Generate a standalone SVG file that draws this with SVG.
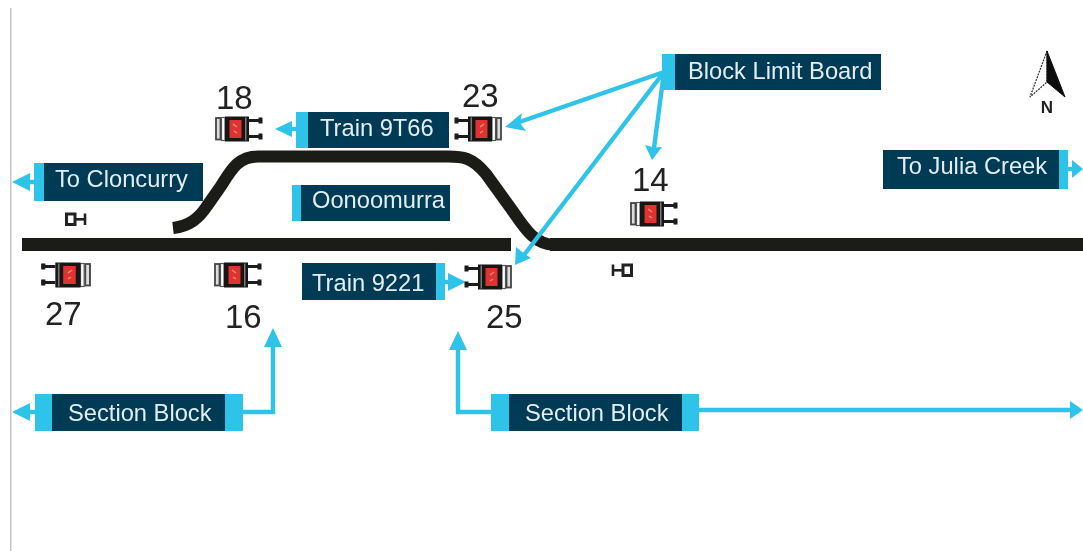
<svg xmlns="http://www.w3.org/2000/svg" width="1083" height="551" viewBox="0 0 1083 551">
<style>
.dark{fill:#003a54}
.cy{fill:#2dc3e9}
.lbl{font-family:"Liberation Sans",Arial,sans-serif;font-size:23.7px;fill:#e4eef2}
.num{font-family:"Liberation Sans",Arial,sans-serif;font-size:33px;fill:#222}
.con{fill:none;stroke:#2dc3e9;stroke-width:4.4}
.head{fill:#2dc3e9}
.track{fill:none;stroke:#1f1a17}
</style>
<defs>
<filter id="soft" x="0" y="0" width="100%" height="100%"><feGaussianBlur stdDeviation="0.45"/></filter>
<g id="train">
<rect x="1" y="2" width="4.500" height="21.500" fill="#ddd" stroke="#444" stroke-width="1.800"/>
<rect x="6.500" y="1.500" width="3.500" height="23" fill="#fff" stroke="#555" stroke-width="1.200"/>
<rect x="10" y="0.500" width="24" height="25" fill="#171717"/>
<rect x="14.500" y="4" width="12" height="18" fill="#e0322e"/>
<path d="M18 8l4 3M19 15l3 2" stroke="#f08a84" stroke-width="1.500" fill="none"/>
<rect x="30" y="1.500" width="1.500" height="23" fill="#777"/>
<path d="M34 4.500H45M34 20.500H45" stroke="#1a1a1a" stroke-width="3" fill="none"/>
<path d="M45.500 1.500V7.500M45.500 17.500V23.500" stroke="#1a1a1a" stroke-width="4" fill="none"/>
</g>
<g id="signal">
<rect x="1.500" y="2" width="8.500" height="10.500" fill="#fff" stroke="#222" stroke-width="3"/>
<path d="M10 7.300H20" stroke="#222" stroke-width="2.600"/>
<path d="M20 1.500V13" stroke="#222" stroke-width="2.600"/>
</g>
</defs>
<rect width="1083" height="551" fill="#fff"/>
<g filter="url(#soft)">
<path d="M10.500 8V551" stroke="#c4c4c4" stroke-width="2" fill="none"/>

<g id="tracks">
<path class="track" stroke-width="13" d="M22 244.500H511M550 244.500H1083"/>
<path class="track" stroke-width="12" d="M173 228C190 226 199 218 207 206L221 186C231 170 238 156.500 258 156.500H448C462 156.500 472 157 486 174L512 210C525 229 535 245 555 245"/>
</g>

<g id="connectors">
<path class="con" d="M664 72L518 122.500"/>
<path class="head" d="M505 127L522 113L520 123L526 131Z"/>
<path class="con" d="M664 72L654 148"/>
<path class="head" d="M652 160L645 145L654 147.500L662 147Z"/>
<path class="con" d="M664 72L524 255"/>
<path class="head" d="M515 265L516 247L524 253.500L531 258Z"/>
<path class="con" d="M296 129H290"/>
<path class="head" d="M275 129L292 121V137Z"/>
<path class="con" d="M34 182H28"/>
<path class="head" d="M12 182L30 173V191Z"/>
<path class="con" d="M445 282H450"/>
<path class="head" d="M466 282L448 273V291Z"/>
<path class="con" d="M1068 169H1074"/>
<path class="head" d="M1083 169L1072 160V178Z"/>
<path class="con" d="M35 412H28"/>
<path class="head" d="M12 412L30 403V421Z"/>
<path class="con" d="M243 412H273V345"/>
<path class="head" d="M273 328L264 347H282Z"/>
<path class="con" d="M491 412H458V345"/>
<path class="head" d="M458 331L449 350H467Z"/>
<path class="con" d="M699 410H1072"/>
<path class="head" d="M1083 410L1070 401V419Z"/>
</g>

<g id="train-18"><use href="#train" x="215" y="116"/><text class="num" x="216" y="109">18</text></g>
<g id="train-23"><use href="#train" transform="translate(502 116) scale(-1 1)"/><text class="num" x="462" y="107">23</text></g>
<g id="train-14"><use href="#train" x="630" y="201"/><text class="num" x="632" y="191">14</text></g>
<g id="train-27"><use href="#train" transform="translate(91 262) scale(-1.050 1)"/><text class="num" x="45" y="325">27</text></g>
<g id="train-16"><use href="#train" x="214" y="262"/><text class="num" x="225" y="328">16</text></g>
<g id="train-25"><use href="#train" transform="translate(512 264) scale(-1 1)"/><text class="num" x="486" y="328">25</text></g>

<g id="signal-west"><use href="#signal" x="65" y="212"/></g>
<g id="signal-east"><use href="#signal" transform="translate(633 263) scale(-1 1)"/></g>

<g id="block-limit-board">
<rect class="cy" x="662" y="54" width="13" height="36"/>
<rect class="dark" x="675" y="54" width="206" height="36"/>
<text class="lbl" x="688" y="79">Block Limit Board</text>
</g>
<g id="train-9t66">
<rect class="cy" x="296" y="112" width="12" height="36"/>
<rect class="dark" x="308" y="112" width="141" height="36"/>
<text class="lbl" x="320" y="136">Train 9T66</text>
</g>
<g id="to-cloncurry">
<rect class="cy" x="34" y="163" width="10" height="38"/>
<rect class="dark" x="44" y="163" width="159" height="38"/>
<text class="lbl" x="55" y="187">To Cloncurry</text>
</g>
<g id="oonoomurra">
<rect class="cy" x="292" y="185" width="9" height="36"/>
<rect class="dark" x="301" y="185" width="149" height="36"/>
<text class="lbl" x="312" y="208">Oonoomurra</text>
</g>
<g id="train-9221">
<rect class="dark" x="302" y="263" width="134" height="37"/>
<rect class="cy" x="436" y="263" width="9" height="37"/>
<text class="lbl" x="312" y="291">Train 9221</text>
</g>
<g id="section-block-west">
<rect class="cy" x="35" y="394" width="17" height="37"/>
<rect class="dark" x="52" y="394" width="173" height="37"/>
<rect class="cy" x="225" y="394" width="18" height="37"/>
<text class="lbl" x="68" y="421">Section Block</text>
</g>
<g id="section-block-east">
<rect class="cy" x="491" y="394" width="18" height="37"/>
<rect class="dark" x="509" y="394" width="173" height="37"/>
<rect class="cy" x="682" y="394" width="17" height="37"/>
<text class="lbl" x="525" y="421">Section Block</text>
</g>
<g id="to-julia-creek">
<rect class="dark" x="883" y="150" width="176" height="39"/>
<rect class="cy" x="1059" y="150" width="9" height="39"/>
<text class="lbl" x="897" y="174">To Julia Creek</text>
</g>
<g id="north">
<path d="M1047 51L1030 97L1047 82Z" fill="#fff" stroke="#333" stroke-width="1.200" stroke-dasharray="2 1"/>
<path d="M1047 51L1065 97L1047 82Z" fill="#111" stroke="#111" stroke-width="1"/>
<text x="1047" y="113" text-anchor="middle" font-family="Liberation Sans,Arial,sans-serif" font-weight="700" font-size="17" fill="#222">N</text>
</g>
</g>
</svg>
